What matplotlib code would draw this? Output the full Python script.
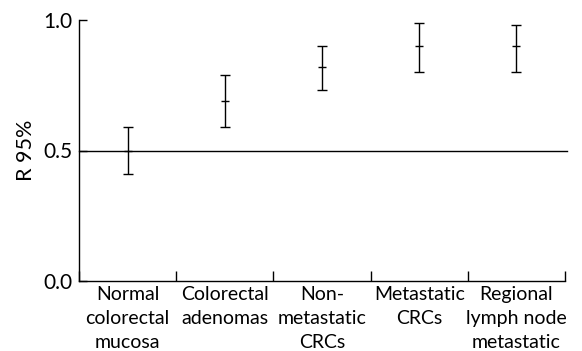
import numpy as np
import matplotlib.pyplot as plt

plt.rcParams['font.family'] = ['Lato', 'DejaVu Sans']

# categories and R 95% estimates (mean, lower, upper)
categories = ['Normal\ncolorectal\nmucosa', 'Colorectal\nadenomas', 'Non-\nmetastatic\nCRCs',
              'Metastatic\nCRCs', 'Regional\nlymph node\nmetastatic']
means = [0.50, 0.69, 0.82, 0.90, 0.90]
lower = [0.41, 0.59, 0.73, 0.80, 0.80]
upper = [0.59, 0.79, 0.90, 0.99, 0.98]

x = np.arange(len(categories)) + 0.5
means = np.array(means)
yerr = [means - np.array(lower), np.array(upper) - means]

fig = plt.figure(figsize=(5.82, 3.51), dpi=100)
ax = fig.add_axes([79 / 582, 1 - 281 / 351, (565 - 79) / 582, (281 - 20) / 351])

ax.errorbar(x, means, yerr=yerr, fmt='_', color='black', ecolor='black',
            elinewidth=1, capsize=3.6, capthick=1, markersize=6, markeredgewidth=1)
ax.axhline(0.5, color='black', lw=1, xmax=1.005, clip_on=False)

ax.set_xlim(0, len(categories))
ax.set_ylim(0, 1.0)
ax.set_xticks(np.arange(len(categories) + 1))
ax.set_xticklabels([])
ax.set_xticks(x, minor=True)
ax.set_xticklabels(categories, minor=True, fontsize=14, linespacing=1.5)
ax.tick_params(axis='x', which='minor', length=0, pad=3.5)
ax.tick_params(axis='x', which='major', direction='in', length=7, width=1)
ax.set_yticks([0.0, 0.5, 1.0])
ax.set_yticklabels(['0.0', '0.5', '1.0'], fontsize=15)
ax.tick_params(axis='y', direction='in', length=6, width=1, pad=5)
ax.set_ylabel('R 95%', fontsize=15.5, labelpad=5)

for s in ['top', 'right']:
    ax.spines[s].set_visible(False)
for s in ['left', 'bottom']:
    ax.spines[s].set_linewidth(1)

fig.savefig('out.png', dpi=100)
